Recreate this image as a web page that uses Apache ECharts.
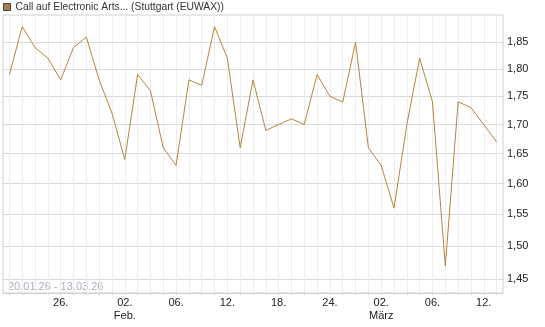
<!DOCTYPE html>
<html>
<head>
<meta charset="utf-8">
<script src="https://cdn.jsdelivr.net/npm/echarts@6/dist/echarts.min.js"></script>
<style>
  html, body { margin: 0; padding: 0; background: #fff; }
  #chart { width: 545px; height: 327px; }
</style>
</head>
<body>
<div id="chart"></div>
<script>
// Handelstage (nur Wochentage)
var dates = [
    '2026-01-20', '2026-01-21', '2026-01-22', '2026-01-23', '2026-01-26', '2026-01-27', '2026-01-28', '2026-01-29', '2026-01-30',
    '2026-02-02', '2026-02-03', '2026-02-04', '2026-02-05', '2026-02-06',
    '2026-02-09', '2026-02-10', '2026-02-11', '2026-02-12', '2026-02-13',
    '2026-02-16', '2026-02-17', '2026-02-18', '2026-02-19', '2026-02-20',
    '2026-02-23', '2026-02-24', '2026-02-25', '2026-02-26', '2026-02-27',
    '2026-03-02', '2026-03-03', '2026-03-04', '2026-03-05', '2026-03-06',
    '2026-03-09', '2026-03-10', '2026-03-11', '2026-03-12', '2026-03-13'
];
var prices = [
    1.79, 1.88, 1.84, 1.82, 1.78, 1.84, 1.86, 1.78, 1.72,
    1.64, 1.79, 1.76, 1.66, 1.63,
    1.78, 1.77, 1.88, 1.82, 1.66,
    1.78, 1.69, 1.70, 1.71, 1.70,
    1.79, 1.75, 1.74, 1.85, 1.66,
    1.63, 1.56, 1.70, 1.82, 1.74,
    1.47, 1.74, 1.73, 1.70, 1.67
];
var xTickDates = ['2026-01-26', '2026-02-02', '2026-02-06', '2026-02-12', '2026-02-18', '2026-02-24', '2026-03-02', '2026-03-06', '2026-03-12'];
var xTickLabels = ['26.', '02.\nFeb.', '06.', '12.', '18.', '24.', '02.\nMärz', '06.', '12.'];
var yTicks = [1.45, 1.50, 1.55, 1.60, 1.65, 1.70, 1.75, 1.80, 1.85];
var seriesName = 'Call auf Electronic Arts... (Stuttgart (EUWAX))';
var rangeText = '20.01.26 - 13.03.26';

var font = '"Liberation Sans", Arial, sans-serif';
var myChart = echarts.init(document.getElementById('chart'));

var option = {
    animation: false,
    textStyle: { fontFamily: font },
    legend: {
        left: 3,
        top: 0,
        padding: 0,
        itemWidth: 7,
        itemHeight: 7,
        icon: 'rect',
        itemStyle: { color: '#a97d45', borderColor: '#444', borderWidth: 1 },
        textStyle: { fontSize: 10.3, color: '#333', fontFamily: font, lineHeight: 14 },
        data: [seriesName]
    },
    grid: {
        left: 3,
        right: 42,
        top: 15,
        bottom: 34,
        show: true,
        borderColor: '#d0d0d0',
        borderWidth: 1
    },
    graphic: [{
        type: 'text',
        left: 8,
        top: 281,
        style: { text: rangeText, fill: '#a9b0bd', font: '11px ' + font }
    }],
    xAxis: {
        type: 'category',
        data: dates,
        boundaryGap: true,
        axisLine: { show: true, lineStyle: { color: '#d0d0d0' } },
        axisTick: { show: true, interval: 0, alignWithLabel: true, length: 2, lineStyle: { color: '#d0d0d0' } },
        axisLabel: {
            interval: function (idx, value) { return xTickDates.indexOf(value) >= 0; },
            formatter: function (value) { return xTickLabels[xTickDates.indexOf(value)]; },
            color: '#222',
            fontSize: 11,
            lineHeight: 13,
            margin: 3,
            fontFamily: font
        },
        splitLine: { show: true, interval: 0, alignWithLabel: true, lineStyle: { color: '#ececec', width: 1 } }
    },
    yAxis: {
        type: 'log',
        logBase: 10,
        position: 'right',
        min: 1.4297,
        max: 1.9027,
        axisLine: { show: false },
        axisTick: { show: false, customValues: yTicks },
        axisLabel: {
            customValues: yTicks,
            formatter: function (v) { return v.toFixed(2).replace('.', ','); },
            color: '#222',
            fontSize: 11,
            margin: 4,
            fontFamily: font
        },
        splitLine: { show: true, lineStyle: { color: '#dadada', width: 1 } }
    },
    series: [{
        name: seriesName,
        type: 'line',
        data: prices,
        symbol: 'none',
        lineStyle: { color: '#b5853b', width: 1 },
        itemStyle: { color: '#b5853b' }
    }]
};

myChart.setOption(option);
</script>
</body>
</html>
